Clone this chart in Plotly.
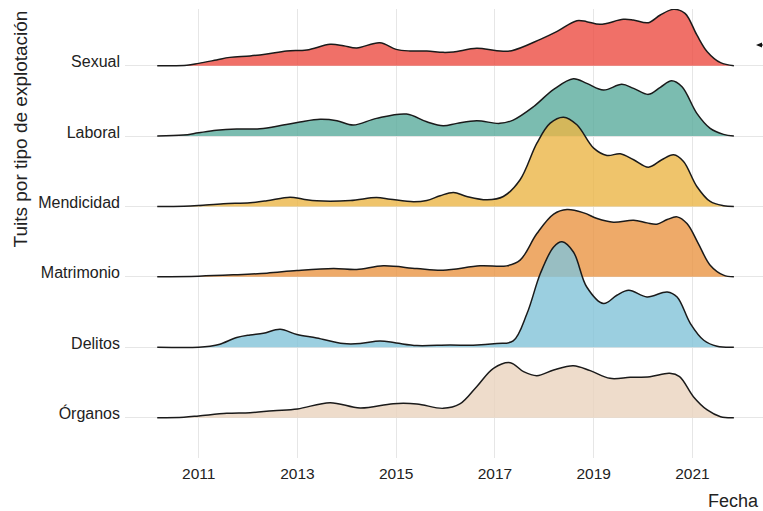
import plotly.graph_objects as go

# ---------------- data ----------------
categories = ["Sexual", "Laboral", "Mendicidad", "Matrimonio", "Delitos", "Órganos"]

sexual_x = [2010.16, 2010.76, 2011.0, 2011.36, 2011.63, 2012.04, 2012.38, 2012.78, 2013.19, 2013.66,
            2013.93, 2014.2, 2014.67, 2015.0, 2015.28, 2015.62, 2015.95, 2016.16, 2016.63, 2017.04,
            2017.34, 2017.92, 2018.25, 2018.66, 2018.86, 2019.13, 2019.6, 2019.8, 2020.11, 2020.35,
            2020.62, 2020.85, 2021.09, 2021.3, 2021.57, 2021.84]
sexual_d = [0, 0.3, 2.3, 5.7, 8.3, 9.7, 11.7, 14.7, 15.7, 21.3,
            20, 17.7, 23, 16.3, 14.7, 14.7, 13.3, 13.7, 17.3, 15,
            15, 26.3, 34, 45, 44, 41.3, 46.3, 45.7, 43, 50.7,
            56.3, 52.3, 30.7, 14, 3, 0]

laboral_x = [2010.16, 2010.69, 2011.0, 2011.36, 2011.77, 2012.24, 2012.71, 2013.05, 2013.46, 2013.8,
             2014.13, 2014.6, 2015.21, 2015.62, 2015.95, 2016.23, 2016.63, 2017.1, 2017.37, 2017.78,
             2018.19, 2018.59, 2018.86, 2019.2, 2019.57, 2019.81, 2020.11, 2020.35, 2020.58, 2020.79,
             2021.09, 2021.36, 2021.63, 2021.84]
laboral_d = [0, 1, 3.3, 5.7, 7, 7.3, 11, 14, 16.7, 15.3,
             11, 17.7, 22, 14.3, 10.3, 12.7, 15.3, 12.7, 16, 29.3,
             46.7, 57.3, 52.7, 46, 51.7, 47.7, 41.7, 48.7, 55.3, 49.3,
             22.7, 7.7, 1.7, 0]

mendicidad_x = [2010.16, 2010.7, 2011.0, 2011.5, 2012.04, 2012.38, 2012.85, 2013.12, 2013.39, 2014.07,
                2014.6, 2014.88, 2015.35, 2015.62, 2015.89, 2016.16, 2016.43, 2016.84, 2017.17, 2017.51,
                2017.85, 2018.12, 2018.39, 2018.66, 2019.0, 2019.27, 2019.54, 2019.81, 2020.11, 2020.38,
                2020.62, 2020.82, 2021.09, 2021.36, 2021.63, 2021.84]
mendicidad_d = [0, 0.3, 1, 2.7, 3.7, 5.7, 9.3, 7.3, 5.7, 6,
                9, 7.3, 4.7, 6, 10.7, 14, 10, 6.7, 10, 26.7,
                63.3, 83.3, 89.3, 81.7, 58.3, 51, 52.7, 46.7, 39.3, 46.7,
                51.7, 45, 20, 5, 0.7, 0]

matrimonio_x = [2010.16, 2011.0, 2011.7, 2012.38, 2012.99, 2013.73, 2014.2, 2014.74, 2015.42, 2015.95,
                2016.7, 2017.24, 2017.51, 2017.85, 2018.19, 2018.46, 2018.8, 2019.07, 2019.4, 2019.81,
                2020.08, 2020.28, 2020.49, 2020.69, 2020.89, 2021.12, 2021.36, 2021.63, 2021.84]
matrimonio_d = [0, 0.7, 2, 3.7, 6.3, 8.3, 7.3, 11, 8.3, 6.7,
                11, 11, 16.7, 43.3, 62.7, 67.3, 64, 58.3, 54.7, 56.7,
                54, 52.7, 57.3, 60, 53.3, 33.3, 11.7, 1.7, 0]

delitos_x = [2010.16, 2011.0, 2011.23, 2011.43, 2011.77, 2012.04, 2012.31, 2012.65, 2012.99, 2013.39,
             2013.93, 2014.27, 2014.67, 2015.0, 2015.42, 2016.09, 2016.56, 2017.04, 2017.37, 2017.65,
             2017.92, 2018.19, 2018.36, 2018.59, 2018.86, 2019.2, 2019.47, 2019.71, 2020.08, 2020.49,
             2020.69, 2020.96, 2021.23, 2021.5, 2021.84]
delitos_d = [0, 0, 1, 3, 9.7, 12.3, 14, 18, 12.7, 9.3,
             3.7, 3.7, 6.3, 4.3, 1.7, 2.3, 2, 3.7, 6.3, 33.7,
             73.7, 100.3, 105.5, 95.3, 60.3, 43.7, 52, 57, 50.3, 55.3,
             50.3, 23.7, 7, 1, 0]

organos_x = [2010.16, 2010.7, 2011.0, 2011.57, 2012.04, 2012.51, 2013.0, 2013.66, 2014.27, 2014.94,
             2015.42, 2015.95, 2016.29, 2016.63, 2016.97, 2017.31, 2017.58, 2017.85, 2018.19, 2018.59,
             2018.93, 2019.33, 2019.74, 2020.14, 2020.54, 2020.74, 2021.02, 2021.3, 2021.57, 2021.84]
organos_d = [0, 0.5, 1.7, 4.3, 5, 7, 8.7, 15, 9.7, 14,
             13.7, 9.3, 13.7, 31, 49.3, 55, 46, 42, 47.7, 52,
             47, 39.3, 40.3, 41, 44.3, 41, 21, 7.7, 1, 0]

x_ticks = [2011, 2013, 2015, 2017, 2019, 2021]

series_x = [sexual_x, laboral_x, mendicidad_x, matrimonio_x, delitos_x, organos_x]
series_d = [sexual_d, laboral_d, mendicidad_d, matrimonio_d, delitos_d, organos_d]
colors = ["rgba(236,76,66,0.8)", "rgba(90,171,156,0.8)", "rgba(235,181,70,0.8)",
          "rgba(234,149,67,0.8)", "rgba(130,195,216,0.8)", "rgba(234,211,190,0.8)"]

SCALE = 1 / 70.4  # density units -> ridge spacing

fig = go.Figure()
n = len(categories)
for i, (cat, xs, ds, col) in enumerate(zip(categories, series_x, series_d, colors)):
    base = n - i
    fig.add_trace(go.Scatter(x=[xs[0], xs[-1]], y=[base, base], mode="lines",
                             line=dict(width=0, color="rgba(0,0,0,0)"),
                             hoverinfo="skip", showlegend=False))
    fig.add_trace(go.Scatter(x=xs, y=[base + d * SCALE for d in ds], mode="lines",
                             line=dict(color="#1a1a1a", width=1.5, shape="spline", smoothing=1.0),
                             fill="tonexty", fillcolor=col, name=cat, showlegend=False))


def px(xp):
    return (xp - 125) / 638


def py(yp):
    return (458 - yp) / 449


font_family = "Liberation Sans, Arial, sans-serif"
fig.update_layout(
    template="none",
    width=763, height=511,
    margin=dict(l=125, r=0, t=9, b=53, autoexpand=False),
    paper_bgcolor="white", plot_bgcolor="white",
    font=dict(family=font_family, color="#222222"),
    xaxis=dict(range=[2009.507, 2022.43], tickvals=x_ticks, ticktext=[str(v) for v in x_ticks],
               showgrid=True, gridcolor="#E6E6E6", gridwidth=1.2, zeroline=False, automargin=False,
               showline=False, ticks="", tickfont=dict(size=15.5, color="#222222"),
               ticklabelstandoff=4),
    yaxis=dict(range=[0.427, 6.805], tickvals=list(range(n, 0, -1)), ticktext=categories,
               showgrid=True, gridcolor="#E6E6E6", gridwidth=1.2, zeroline=False, automargin=False,
               showline=False, ticks="", tickfont=dict(size=16, color="#222222"),
               ticklabelshift=-4, ticklabelstandoff=4),
    annotations=[
        dict(text="Tuits por tipo de explotación", xref="paper", yref="paper",
             x=px(20), y=1.0, xanchor="center", yanchor="top", textangle=-90,
             showarrow=False, font=dict(size=19, color="#222222")),
        dict(text="Fecha", xref="paper", yref="paper", x=px(761), y=py(501),
             xanchor="right", yanchor="middle", showarrow=False,
             font=dict(size=18, color="#222222")),
    ],
    shapes=[
        dict(type="path", xref="paper", yref="paper",
             path=f"M {px(756)},{py(45)} L {px(762)},{py(42.5)} L {px(762)},{py(47.5)} Z",
             fillcolor="#111111", line=dict(width=0)),
        dict(type="line", xref="paper", yref="paper", x0=px(760), x1=px(764), y0=py(45), y1=py(45),
             line=dict(color="#111111", width=1)),
    ],
)

fig.write_html("out.html", config={"displayModeBar": False},
               post_script="document.body.style.margin='0px';document.body.style.overflow='hidden';")
